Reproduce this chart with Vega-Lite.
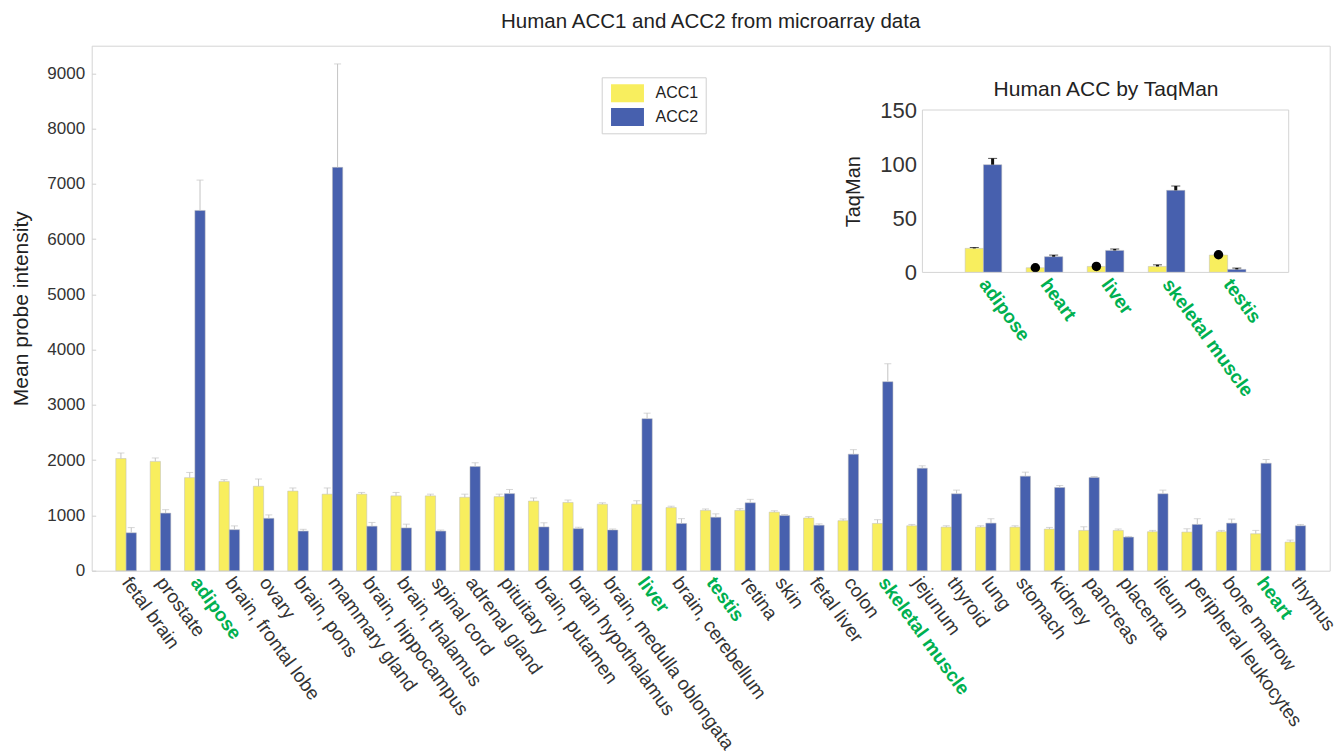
{
  "$schema": "https://vega.github.io/schema/vega-lite/v6.json",
  "width": 1238,
  "height": 525,
  "autosize": {"type": "none"},
  "padding": {"left": 91.7, "top": 45.7, "right": 9.3, "bottom": 185.3},
  "title": {"text": "Human ACC1 and ACC2 from microarray data", "fontSize": 20.5, "fontWeight": "normal", "color": "#222", "offset": 13, "anchor": "middle"},
  "datasets": {
    "main": [
      {"tissue": "fetal brain", "gene": "ACC1", "value": 2030, "upper": 2130},
      {"tissue": "fetal brain", "gene": "ACC2", "value": 686, "upper": 780},
      {"tissue": "prostate", "gene": "ACC1", "value": 1978, "upper": 2040},
      {"tissue": "prostate", "gene": "ACC2", "value": 1042, "upper": 1104},
      {"tissue": "adipose", "gene": "ACC1", "value": 1684, "upper": 1778},
      {"tissue": "adipose", "gene": "ACC2", "value": 6519, "upper": 7068},
      {"tissue": "brain, frontal lobe", "gene": "ACC1", "value": 1616, "upper": 1647},
      {"tissue": "brain, frontal lobe", "gene": "ACC2", "value": 742, "upper": 811},
      {"tissue": "ovary", "gene": "ACC1", "value": 1528, "upper": 1659},
      {"tissue": "ovary", "gene": "ACC2", "value": 948, "upper": 1010},
      {"tissue": "brain, pons", "gene": "ACC1", "value": 1441, "upper": 1497},
      {"tissue": "brain, pons", "gene": "ACC2", "value": 717, "upper": 749},
      {"tissue": "mammary gland", "gene": "ACC1", "value": 1385, "upper": 1497},
      {"tissue": "mammary gland", "gene": "ACC2", "value": 7299, "upper": 9170},
      {"tissue": "brain, hippocampus", "gene": "ACC1", "value": 1385, "upper": 1416},
      {"tissue": "brain, hippocampus", "gene": "ACC2", "value": 805, "upper": 873},
      {"tissue": "brain, thalamus", "gene": "ACC1", "value": 1354, "upper": 1416},
      {"tissue": "brain, thalamus", "gene": "ACC2", "value": 774, "upper": 842},
      {"tissue": "spinal cord", "gene": "ACC1", "value": 1354, "upper": 1385},
      {"tissue": "spinal cord", "gene": "ACC2", "value": 717, "upper": 736},
      {"tissue": "adrenal gland", "gene": "ACC1", "value": 1329, "upper": 1385},
      {"tissue": "adrenal gland", "gene": "ACC2", "value": 1884, "upper": 1953},
      {"tissue": "pituitary", "gene": "ACC1", "value": 1340, "upper": 1385},
      {"tissue": "pituitary", "gene": "ACC2", "value": 1395, "upper": 1470},
      {"tissue": "brain, putamen", "gene": "ACC1", "value": 1260, "upper": 1316},
      {"tissue": "brain, putamen", "gene": "ACC2", "value": 792, "upper": 867},
      {"tissue": "brain hypothalamus", "gene": "ACC1", "value": 1235, "upper": 1279},
      {"tissue": "brain hypothalamus", "gene": "ACC2", "value": 761, "upper": 786},
      {"tissue": "brain, medulla oblongata", "gene": "ACC1", "value": 1204, "upper": 1229},
      {"tissue": "brain, medulla oblongata", "gene": "ACC2", "value": 736, "upper": 755},
      {"tissue": "liver", "gene": "ACC1", "value": 1204, "upper": 1266},
      {"tissue": "liver", "gene": "ACC2", "value": 2751, "upper": 2851},
      {"tissue": "brain, cerebellum", "gene": "ACC1", "value": 1142, "upper": 1167},
      {"tissue": "brain, cerebellum", "gene": "ACC2", "value": 855, "upper": 942},
      {"tissue": "testis", "gene": "ACC1", "value": 1092, "upper": 1117},
      {"tissue": "testis", "gene": "ACC2", "value": 967, "upper": 1029},
      {"tissue": "retina", "gene": "ACC1", "value": 1092, "upper": 1123},
      {"tissue": "retina", "gene": "ACC2", "value": 1229, "upper": 1291},
      {"tissue": "skin", "gene": "ACC1", "value": 1060, "upper": 1085},
      {"tissue": "skin", "gene": "ACC2", "value": 998, "upper": 1017},
      {"tissue": "fetal liver", "gene": "ACC1", "value": 954, "upper": 979},
      {"tissue": "fetal liver", "gene": "ACC2", "value": 823, "upper": 848},
      {"tissue": "colon", "gene": "ACC1", "value": 905, "upper": 936},
      {"tissue": "colon", "gene": "ACC2", "value": 2109, "upper": 2190},
      {"tissue": "skeletal muscle", "gene": "ACC1", "value": 855, "upper": 923},
      {"tissue": "skeletal muscle", "gene": "ACC2", "value": 3420, "upper": 3745},
      {"tissue": "jejunum", "gene": "ACC1", "value": 813, "upper": 837},
      {"tissue": "jejunum", "gene": "ACC2", "value": 1855, "upper": 1898},
      {"tissue": "thyroid", "gene": "ACC1", "value": 789, "upper": 813},
      {"tissue": "thyroid", "gene": "ACC2", "value": 1392, "upper": 1458},
      {"tissue": "lung", "gene": "ACC1", "value": 789, "upper": 813},
      {"tissue": "lung", "gene": "ACC2", "value": 861, "upper": 940},
      {"tissue": "stomach", "gene": "ACC1", "value": 789, "upper": 813},
      {"tissue": "stomach", "gene": "ACC2", "value": 1711, "upper": 1783},
      {"tissue": "kidney", "gene": "ACC1", "value": 753, "upper": 783},
      {"tissue": "kidney", "gene": "ACC2", "value": 1506, "upper": 1542},
      {"tissue": "pancreas", "gene": "ACC1", "value": 729, "upper": 795},
      {"tissue": "pancreas", "gene": "ACC2", "value": 1687, "upper": 1705},
      {"tissue": "placenta", "gene": "ACC1", "value": 729, "upper": 753},
      {"tissue": "placenta", "gene": "ACC2", "value": 608, "upper": 620},
      {"tissue": "ileum", "gene": "ACC1", "value": 705, "upper": 729},
      {"tissue": "ileum", "gene": "ACC2", "value": 1392, "upper": 1458},
      {"tissue": "peripheral leukocytes", "gene": "ACC1", "value": 699, "upper": 759},
      {"tissue": "peripheral leukocytes", "gene": "ACC2", "value": 837, "upper": 940},
      {"tissue": "bone marrow", "gene": "ACC1", "value": 705, "upper": 729},
      {"tissue": "bone marrow", "gene": "ACC2", "value": 861, "upper": 934},
      {"tissue": "heart", "gene": "ACC1", "value": 669, "upper": 729},
      {"tissue": "heart", "gene": "ACC2", "value": 1946, "upper": 2012},
      {"tissue": "thymus", "gene": "ACC1", "value": 518, "upper": 554},
      {"tissue": "thymus", "gene": "ACC2", "value": 813, "upper": 837}
    ],
    "inset": [
      {"tissue": "adipose", "gene": "ACC1", "value": 22.2, "upper": 23, "dot": null},
      {"tissue": "adipose", "gene": "ACC2", "value": 99.5, "upper": 105.3, "dot": null},
      {"tissue": "heart", "gene": "ACC1", "value": 4.3, "upper": null, "dot": 4.3},
      {"tissue": "heart", "gene": "ACC2", "value": 14.5, "upper": 16, "dot": null},
      {"tissue": "liver", "gene": "ACC1", "value": 5.5, "upper": null, "dot": 5.5},
      {"tissue": "liver", "gene": "ACC2", "value": 20.3, "upper": 21.6, "dot": null},
      {"tissue": "skeletal muscle", "gene": "ACC1", "value": 5.5, "upper": 7, "dot": null},
      {"tissue": "skeletal muscle", "gene": "ACC2", "value": 75.8, "upper": 79.8, "dot": null},
      {"tissue": "testis", "gene": "ACC1", "value": 16, "upper": null, "dot": 16.3},
      {"tissue": "testis", "gene": "ACC2", "value": 2.8, "upper": 4, "dot": null}
    ],
    "frame": [{"x0": 0, "x1": 6, "y0": 0, "y1": 150}]
  },
  "layer": [
    {
      "data": {"name": "main"},
      "encoding": {
        "x": {
          "field": "tissue", "type": "nominal", "sort": null,
          "scale": {"paddingInner": 0.4, "paddingOuter": 0.7},
          "axis": {
            "orient": "bottom", "title": null, "ticks": false, "domain": false,
            "labelAngle": 54, "labelAlign": "left", "labelBaseline": "middle",
            "labelPadding": 8, "labelFontSize": 19, "labelLimit": 400,
            "labelColor": {"condition": {"test": "indexof(['adipose','liver','testis','skeletal muscle','heart'], datum.value) >= 0", "value": "#00b050"}, "value": "#333333"},
            "labelFontWeight": {"condition": {"test": "indexof(['adipose','liver','testis','skeletal muscle','heart'], datum.value) >= 0", "value": "bold"}, "value": "normal"}
          }
        },
        "xOffset": {"field": "gene", "type": "nominal", "scale": {"paddingInner": 0, "paddingOuter": 0}},
        "y": {
          "field": "value", "type": "quantitative",
          "scale": {"domain": [0, 9500], "nice": false},
          "axis": {
            "orient": "left", "title": "Mean probe intensity", "titleFontSize": 21, "titlePadding": 15,
            "values": [0, 1000, 2000, 3000, 4000, 5000, 6000, 7000, 8000, 9000], "format": "d",
            "labelFontSize": 17, "grid": false, "domain": false, "ticks": true, "tickSize": -4, "tickColor": "#cfcfcf", "labelPadding": 11
          }
        }
      },
      "layer": [
        {
          "mark": {"type": "bar", "stroke": "#bdbdbd", "strokeWidth": 0.5},
          "encoding": {
            "color": {
              "field": "gene", "type": "nominal",
              "scale": {"domain": ["ACC1", "ACC2"], "range": ["#f8ee5e", "#4760ae"]},
              "legend": {
                "orient": "none", "legendX": 510, "legendY": 31.6, "title": null,
                "symbolType": "M-1.83,-1H1.83V1H-1.83Z", "symbolSize": 324, "symbolStrokeWidth": 0,
                "symbolOffset": 9.8, "labelOffset": 19,
                "labelFontSize": 16, "labelColor": "#222",
                "rowPadding": 5.6, "padding": 7, "strokeColor": "#d0d0d0", "fillColor": "white"
              }
            }
          }
        },
        {
          "mark": {"type": "rule", "color": "#c4c4c4", "strokeWidth": 1},
          "encoding": {"y2": {"field": "upper"}}
        },
        {
          "mark": {"type": "tick", "color": "#c4c4c4", "size": 7, "thickness": 1},
          "encoding": {"y": {"field": "upper", "type": "quantitative"}}
        }
      ]
    },
    {
      "layer": [
        {
          "data": {"name": "inset"},
          "encoding": {
            "x": {
              "field": "tissue", "type": "nominal", "sort": null,
              "scale": {"paddingInner": 0.4, "paddingOuter": 0.7, "range": [830.7, 1197]},
              "axis": {
                "orient": "bottom", "offset": -298.3, "title": null, "ticks": false, "domain": false,
                "labelAngle": 54, "labelAlign": "left", "labelBaseline": "middle",
                "labelPadding": 8, "labelFontSize": 19, "labelFontWeight": "bold", "labelColor": "#00b050"
              }
            },
            "xOffset": {"field": "gene", "type": "nominal", "scale": {"paddingInner": 0, "paddingOuter": 0}},
            "y": {
              "field": "value", "type": "quantitative",
              "scale": {"domain": [0, 150], "nice": false, "range": [226.7, 64.3]},
              "axis": {
                "orient": "left", "offset": -830.7, "title": "TaqMan", "titleFontSize": 20, "titlePadding": 16,
                "values": [0, 50, 100, 150], "format": "d", "labelFontSize": 22, "grid": false, "domain": false, "ticks": false, "labelPadding": 6
              }
            }
          },
          "layer": [
            {
              "mark": {"type": "bar", "stroke": "#bdbdbd", "strokeWidth": 0.5},
              "encoding": {"color": {"field": "gene", "type": "nominal"}}
            },
            {
              "transform": [{"filter": "isValid(datum.upper)"}],
              "mark": {"type": "rule", "color": "#111", "strokeWidth": 3},
              "encoding": {"y2": {"field": "upper"}}
            },
            {
              "transform": [{"filter": "isValid(datum.upper)"}],
              "mark": {"type": "tick", "color": "#111", "size": 9, "thickness": 1},
              "encoding": {"y": {"field": "upper", "type": "quantitative"}}
            },
            {
              "transform": [{"filter": "isValid(datum.dot)"}],
              "mark": {"type": "point", "filled": true, "color": "#000", "size": 90, "opacity": 1},
              "encoding": {"y": {"field": "dot", "type": "quantitative"}}
            }
          ]
        },
        {
          "data": {"name": "frame"},
          "mark": {"type": "rect", "fill": null, "fillOpacity": 0, "stroke": "#d4d4d4", "strokeWidth": 1},
          "encoding": {
            "x": {
              "field": "x0", "type": "quantitative",
              "scale": {"domain": [0, 6], "nice": false, "zero": false, "range": [830.7, 1197]},
              "axis": {
                "orient": "top", "offset": -64.3, "labels": false, "ticks": false, "domain": false, "grid": false,
                "title": "Human ACC by TaqMan", "titleFontSize": 21, "titleFontWeight": "normal", "titleColor": "#222", "titlePadding": 11
              }
            },
            "x2": {"field": "x1"},
            "y": {"field": "y0", "type": "quantitative"},
            "y2": {"field": "y1"}
          }
        }
      ],
      "resolve": {"scale": {"x": "independent"}, "axis": {"x": "independent"}}
    }
  ],
  "resolve": {"scale": {"x": "independent", "y": "independent", "xOffset": "independent"}, "axis": {"x": "independent", "y": "independent"}},
  "config": {
    "font": "Liberation Sans",
    "view": {"stroke": "#d4d4d4"},
    "axis": {"labelColor": "#333333", "titleColor": "#222222", "titleFontWeight": "normal"}
  }
}
